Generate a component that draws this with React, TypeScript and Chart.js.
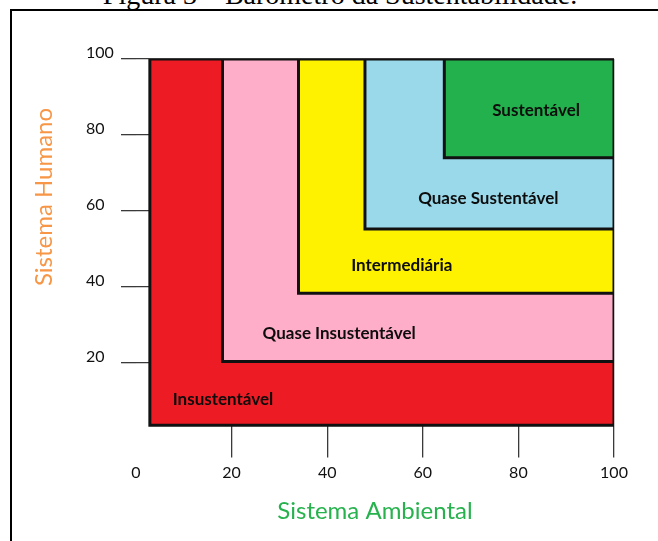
import React, { useEffect, useRef } from 'react';
import { Chart, registerables } from 'chart.js';

Chart.register(...registerables);

// ---- data ----
const zoneNames = ['Insustentável', 'Quase Insustentável', 'Intermediária', 'Quase Sustentável', 'Sustentável'];
const zoneColors = ['#ED1C24', '#FFAEC9', '#FFF200', '#99D9EA', '#22B14C'];
const zoneXStart = [2.9, 18.1, 34.0, 47.9, 64.5];
const zoneYStart = [3.5, 20.3, 38.3, 55.2, 74.0];
const zoneEnd = 100;
const labelX = [18.2, 42.5, 55.6, 73.7, 83.7];
const labelY = [10.4, 27.7, 45.7, 63.3, 86.5];
const xTicks = [0, 20, 40, 60, 80, 100];
const yTicks = [20, 40, 60, 80, 100];
const xTitle = 'Sistema Ambiental';
const yTitle = 'Sistema Humano';
const figureTitle = 'Figura 3 – Barômetro da Sustentabilidade.';

const FONT = 'Lato';

const labelPlugin = {
  id: 'zoneLabels',
  afterDatasetsDraw(chart: any) {
    const { ctx, scales } = chart;
    const xs = scales.x;
    const ys = scales.y;
    ctx.save();
    ctx.font = `bold 17px ${FONT}`;
    ctx.fillStyle = '#0d0d0d';
    ctx.textAlign = 'center';
    ctx.textBaseline = 'middle';
    zoneNames.forEach((name, i) => {
      ctx.fillText(name, xs.getPixelForValue(labelX[i]), ys.getPixelForValue(labelY[i]));
    });
    ctx.restore();
  },
  afterDraw(chart: any) {
    const { ctx } = chart;
    ctx.save();
    ctx.translate(44, 197);
    ctx.rotate(-Math.PI / 2);
    ctx.font = `24px ${FONT}`;
    ctx.fillStyle = '#F79646';
    ctx.textAlign = 'center';
    ctx.textBaseline = 'middle';
    ctx.fillText(yTitle, 0, 0);
    ctx.restore();
  },
};

export default function App() {
  const ref = useRef<HTMLCanvasElement | null>(null);

  useEffect(() => {
    if (!ref.current) return;
    const datasets = zoneNames.map((name, i) => ({
      label: name,
      data: [
        { x: zoneXStart[i], y: zoneYStart[i] },
        { x: zoneXStart[i], y: zoneEnd },
        { x: zoneEnd, y: zoneEnd },
        { x: zoneEnd, y: zoneYStart[i] },
        { x: zoneXStart[i], y: zoneYStart[i] },
      ],
      backgroundColor: zoneColors[i],
      borderColor: '#111111',
      borderWidth: 3,
      borderJoinStyle: 'miter' as const,
      borderCapStyle: 'square' as const,
      pointRadius: 0,
      tension: 0,
      fill: 'shape',
      order: zoneNames.length - i,
    }));

    const chart = new Chart(ref.current, {
      type: 'line',
      data: { datasets },
      plugins: [labelPlugin],
      options: {
        animation: false,
        responsive: true,
        maintainAspectRatio: false,
        layout: { padding: { left: 86, right: 44, top: 59, bottom: 0 } },
        plugins: {
          legend: { display: false },
          tooltip: { enabled: false },
        },
        scales: {
          x: {
            type: 'linear',
            min: 0,
            max: 100,
            afterBuildTicks: (scale: any) => {
              scale.ticks = xTicks.map((v) => ({ value: v }));
            },
            afterFit: (scale: any) => {
              scale.height = 102.4;
            },
            border: { display: false },
            grid: {
              drawOnChartArea: true,
              drawTicks: true,
              tickLength: 19,
              lineWidth: 1.3,
              color: (c: any) => (c.tick && c.tick.value === 0 ? 'rgba(0,0,0,0)' : '#3a3a3a'),
            },
            ticks: {
              color: '#111111',
              font: { family: FONT, size: 16 },
              padding: 6,
              maxRotation: 0,
              autoSkip: false,
            },
            title: {
              display: true,
              text: xTitle,
              color: '#27B24E',
              font: { family: FONT, size: 24 },
              padding: { top: 4, bottom: 15 },
            },
          },
          y: {
            type: 'linear',
            min: 0,
            max: 100,
            afterBuildTicks: (scale: any) => {
              scale.ticks = yTicks.map((v) => ({ value: v }));
            },
            afterFit: (scale: any) => {
              scale.width = 50;
            },
            border: { display: false },
            grid: {
              drawOnChartArea: true,
              drawTicks: true,
              tickLength: 15,
              lineWidth: 1.3,
              color: '#3a3a3a',
            },
            ticks: {
              color: '#111111',
              font: { family: FONT, size: 16 },
              crossAlign: 'far',
              labelOffset: -6,
              autoSkip: false,
            },
          },
        },
      },
    } as any);
    return () => chart.destroy();
  }, []);

  return (
    <div style={{ position: 'fixed', left: 0, top: 0, width: 658, height: 541, overflow: 'hidden', background: '#ffffff' }}>
      <div
        style={{
          position: 'absolute',
          left: 0,
          width: 680,
          top: -19.5,
          textAlign: 'center',
          fontFamily: '"Liberation Serif", "Times New Roman", serif',
          fontSize: 28,
          lineHeight: '28px',
          color: '#000',
          whiteSpace: 'nowrap',
        }}
      >
        {figureTitle}
      </div>
      <div
        style={{
          position: 'absolute',
          left: 10,
          top: 9,
          width: 700,
          height: 600,
          border: '2px solid #000',
        }}
      />
      <div style={{ position: 'absolute', left: 0, top: 0, width: 658, height: 541 }}>
        <canvas ref={ref} />
      </div>
    </div>
  );
}
